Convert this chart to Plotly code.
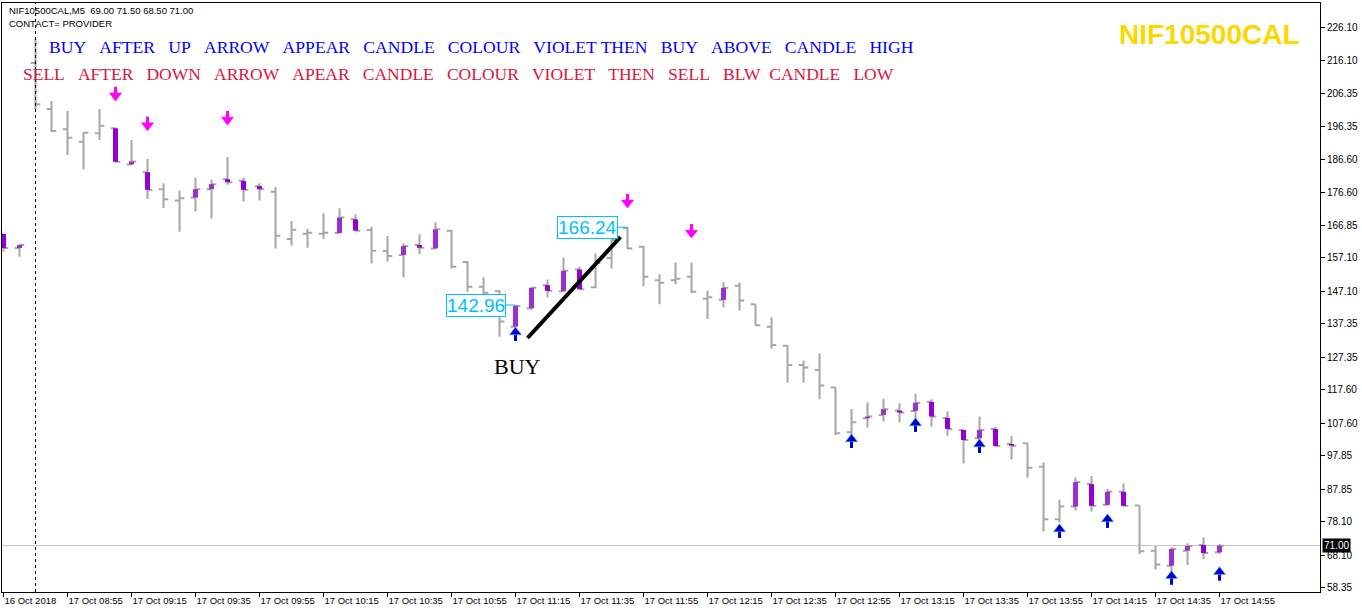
import plotly.graph_objects as go

# ---------------- data ----------------
BAR_INDEX = list(range(77))
OPEN = [164.2, 160.0, 215.3, 201.6, 195.5, 191.8, 194.3, 195.8, 185.0, 182.7,
        177.6, 174.2, 175.1, 177.6, 180.6, 180.1, 178.5, 176.8, 162.7, 164.3,
        164.3, 164.5, 168.6, 165.4, 159.1, 157.9, 160.9, 159.9, 165.2, 155.8,
        148.4, 147.1, 136.5, 142.0, 148.9, 147.1, 153.6, 148.3, 157.0, 166.0,
        160.4, 150.4, 150.4, 151.4, 144.8, 144.5, 148.7, 143.2, 136.5, 130.8,
        125.0, 123.5, 118.3, 104.9, 109.1, 110.1, 111.4, 111.3, 114.0, 109.2,
        105.6, 103.1, 105.9, 101.4, 101.6, 94.6, 78.9, 82.7, 89.4, 83.2,
        87.1, 83.0, 69.5, 65.0, 69.5, 71.2, 69.0]
HIGH = [164.2, 161.0, 222.5, 204.0, 201.0, 194.6, 201.6, 196.0, 192.3, 186.6,
        179.4, 177.1, 181.0, 180.4, 187.2, 181.0, 179.4, 178.2, 168.1, 165.7,
        170.4, 171.9, 170.1, 166.4, 163.6, 161.4, 164.1, 167.7, 165.4, 156.1,
        151.3, 147.4, 142.96, 148.3, 150.6, 157.2, 154.4, 158.4, 163.6, 166.24,
        160.6, 152.2, 155.7, 155.6, 147.2, 149.8, 149.7, 143.2, 139.3, 131.0,
        126.3, 128.5, 118.3, 111.9, 113.9, 114.9, 113.6, 116.4, 114.8, 111.1,
        105.6, 109.6, 106.6, 103.8, 101.6, 95.9, 84.7, 91.4, 91.8, 88.0,
        89.6, 83.0, 70.9, 70.5, 71.7, 73.5, 71.5]
LOW = [158.9, 157.4, 201.5, 194.6, 187.8, 183.6, 192.3, 185.6, 184.8, 174.7,
       172.0, 164.9, 170.9, 168.8, 178.9, 173.9, 174.2, 159.9, 160.7, 160.1,
       162.8, 164.4, 165.0, 155.4, 155.9, 151.3, 158.2, 159.7, 153.9, 146.9,
       145.9, 133.5, 136.4, 141.5, 145.3, 146.9, 147.5, 148.0, 153.9, 159.7,
       148.6, 143.2, 149.2, 146.5, 138.8, 142.3, 141.3, 136.9, 129.9, 119.7,
       119.7, 114.8, 104.1, 100.3, 106.3, 108.1, 107.8, 108.6, 106.6, 103.9,
       95.6, 102.1, 100.6, 96.8, 91.3, 75.2, 77.9, 81.5, 81.2, 83.1,
       82.8, 68.4, 63.9, 63.2, 65.2, 67.0, 68.5]
CLOSE = [160.0, 160.9, 203.0, 195.0, 193.0, 194.5, 196.6, 185.8, 185.9, 177.4,
         174.6, 174.9, 177.6, 179.1, 179.7, 177.4, 177.6, 163.7, 165.5, 164.6,
         164.6, 169.1, 165.2, 159.2, 157.6, 160.6, 160.1, 165.6, 154.4, 148.4,
         146.6, 138.0, 142.7, 148.1, 147.2, 153.2, 147.7, 155.5, 162.4, 159.9,
         151.4, 149.6, 150.8, 146.9, 145.3, 148.1, 144.3, 136.9, 131.0, 125.0,
         124.3, 118.9, 104.6, 107.9, 109.6, 111.8, 110.8, 113.7, 109.6, 105.9,
         102.6, 105.6, 100.8, 100.9, 94.3, 78.9, 82.7, 90.0, 82.9, 87.1,
         82.9, 69.3, 65.4, 70.0, 70.9, 68.8, 71.0]
VIOLET_BARS = [0, 1, 7, 8, 9, 12, 13, 14, 15, 16, 21, 22, 25, 26, 27, 32, 33, 34,
               35, 36, 45, 54, 55, 56, 57, 58, 59, 60, 61, 62, 63, 67, 68, 69, 70,
               73, 74, 75, 76]
DOWN_ARROW_IDX = [7, 9, 14, 39, 43]
DOWN_ARROW_PRICE = [206.1, 197.2, 198.9, 174.1, 165.1]
UP_ARROW_IDX = [32, 53, 57, 61, 66, 69, 73, 76]
UP_ARROW_PRICE = [134.3, 102.3, 107.1, 100.8, 75.4, 78.4, 61.4, 62.6]

X_TICK_IDX = list(range(0, 77, 4))
X_TICK_TEXT = ["16 Oct 2018", "17 Oct 08:55", "17 Oct 09:15", "17 Oct 09:35",
               "17 Oct 09:55", "17 Oct 10:15", "17 Oct 10:35", "17 Oct 10:55",
               "17 Oct 11:15", "17 Oct 11:35", "17 Oct 11:55", "17 Oct 12:15",
               "17 Oct 12:35", "17 Oct 12:55", "17 Oct 13:15", "17 Oct 13:35",
               "17 Oct 13:55", "17 Oct 14:15", "17 Oct 14:35", "17 Oct 14:55"]
Y_TICKS = [226.10, 216.10, 206.35, 196.35, 186.60, 176.60, 166.85, 157.10, 147.10,
           137.35, 127.35, 117.60, 107.60, 97.85, 87.85, 78.10, 68.10, 58.35]
DAY_START_IDX = 2
LAST_PRICE = 71.00
BUY_LABEL = (32, 142.96)
SELL_LABEL = (39, 166.24)
TREND_IDX = [32.75, 38.56]
TREND_PRICE = [133.1, 163.3]
BUY_TEXT_POS = (32.1, 124.7)

SYMBOL = "NIF10500CAL"
HEADER = "NIF10500CAL,M5  69.00 71.50 68.50 71.00"

# ---------------- figure ----------------
GRAY = "#A6A6A6"
BULL = "#9932CC"
BEAR = "#9400D3"
MAGENTA = "#FF00FF"
BLUE = "#0000CD"

fig = go.Figure()
fig.add_trace(go.Ohlc(
    x=BAR_INDEX, open=OPEN, high=HIGH, low=LOW, close=CLOSE,
    increasing=dict(line=dict(color=GRAY, width=2)),
    decreasing=dict(line=dict(color=GRAY, width=2)),
    tickwidth=0.3, hoverinfo="skip", showlegend=False))

for color, cond in ((BULL, lambda o, c: c >= o), (BEAR, lambda o, c: c < o)):
    xs, ys = [], []
    for i in VIOLET_BARS:
        if cond(OPEN[i], CLOSE[i]):
            xs += [i, i, None]
            ys += [OPEN[i], CLOSE[i], None]
    fig.add_trace(go.Scatter(x=xs, y=ys, mode="lines",
                             line=dict(color=color, width=5),
                             hoverinfo="skip", showlegend=False))


def add_arrows(idx_list, price_list, direction, color, edge):
    # stem (thick line) + arrow head (triangle marker), in price units
    s = 1 if direction == "down" else -1
    xs, ys = [], []
    for i, p in zip(idx_list, price_list):
        xs += [i, i, None]
        ys += [p + s * 2.1, p - s * 0.3, None]
    fig.add_trace(go.Scatter(x=xs, y=ys, mode="lines",
                             line=dict(color=color, width=3),
                             hoverinfo="skip", showlegend=False))
    fig.add_trace(go.Scatter(
        x=idx_list, y=[p - s * 0.55 for p in price_list], mode="markers",
        marker=dict(symbol="triangle-" + direction, size=10.5, color=color,
                    line=dict(color=edge, width=0.6)),
        hoverinfo="skip", showlegend=False))


add_arrows(DOWN_ARROW_IDX, DOWN_ARROW_PRICE, "down", MAGENTA, MAGENTA)
add_arrows(UP_ARROW_IDX, UP_ARROW_PRICE, "up", BLUE, "#5AA9FF")

shapes = [
    dict(type="line", xref="x", yref="paper", x0=DAY_START_IDX, x1=DAY_START_IDX,
         y0=0, y1=1, line=dict(color="black", width=1, dash="3px,3px")),
    dict(type="line", xref="paper", yref="y", x0=0, x1=1, y0=LAST_PRICE, y1=LAST_PRICE,
         line=dict(color="#C0C0C0", width=1), layer="below"),
    dict(type="line", xref="x", yref="y", x0=TREND_IDX[0], x1=TREND_IDX[1],
         y0=TREND_PRICE[0], y1=TREND_PRICE[1], line=dict(color="black", width=4)),
]
for idx, price in (BUY_LABEL, SELL_LABEL):
    shapes.append(dict(type="line", xref="x", yref="y", x0=idx - 0.6, x1=idx,
                       y0=price, y1=price, line=dict(color="#00BFFF", width=1)))

annotations = [
    dict(xref="paper", yref="paper", x=0.0038, y=0.988, xanchor="left", yanchor="middle",
         text=HEADER, showarrow=False,
         font=dict(family="Liberation Sans", size=9.5, color="black")),
    dict(xref="paper", yref="paper", x=0.0038, y=0.966, xanchor="left", yanchor="middle",
         text="CONTACT= PROVIDER", showarrow=False,
         font=dict(family="Liberation Sans", size=9.5, color="black")),
    dict(xref="paper", yref="paper", x=0.0341, y=0.9253, xanchor="left", yanchor="middle",
         text="\u00a0\u00a0\u00a0".join(["BUY", "AFTER", "UP", "ARROW", "APPEAR", "CANDLE",
                                         "COLOUR", "VIOLET THEN", "BUY", "ABOVE", "CANDLE", "HIGH"]),
         showarrow=False, font=dict(family="Liberation Serif", size=17.6, color="#0000FF")),
    dict(xref="paper", yref="paper", x=0.0144, y=0.8795, xanchor="left", yanchor="middle",
         text="\u00a0\u00a0\u00a0".join(["SELL", "AFTER", "DOWN", "ARROW", "APEAR", "CANDLE",
                                         "COLOUR", "VIOLET", "THEN", "SELL",
                                         "BLW\u00a0\u00a0CANDLE", "LOW"]),
         showarrow=False, font=dict(family="Liberation Serif", size=17.5, color="#DC143C")),
    dict(xref="paper", yref="paper", x=0.9863, y=0.9457, xanchor="right", yanchor="middle",
         text="<b>" + SYMBOL + "</b>", showarrow=False,
         font=dict(family="Liberation Sans", size=28, color="#FFD700")),
    dict(xref="x", yref="y", x=BUY_TEXT_POS[0], y=BUY_TEXT_POS[1], xanchor="center",
         yanchor="middle", text="BUY", showarrow=False,
         font=dict(family="Liberation Serif", size=22, color="black")),
    dict(xref="paper", yref="y", x=1, y=LAST_PRICE, xanchor="left", yanchor="middle",
         xshift=2, text=f"{LAST_PRICE:.2f}", showarrow=False, bgcolor="black",
         borderpad=1, font=dict(family="Liberation Sans", size=10, color="white")),
]
for idx, price in (BUY_LABEL, SELL_LABEL):
    annotations.append(dict(xref="x", yref="y", x=idx - 0.6, y=price, xanchor="right",
                            yanchor="middle", text=f"{price:.2f}", showarrow=False,
                            bgcolor="white", bordercolor="#00BFFF", borderwidth=1,
                            borderpad=0,
                            font=dict(family="Liberation Sans", size=19, color="#00BFFF")))

fig.update_layout(
    width=1362, height=612,
    margin=dict(l=2, r=42, t=3, b=20),
    paper_bgcolor="white", plot_bgcolor="white",
    showlegend=False, hovermode=False,
    shapes=shapes, annotations=annotations,
    xaxis=dict(range=[-0.094, 82.28], tickvals=X_TICK_IDX, ticktext=X_TICK_TEXT,
               ticks="outside", ticklen=4, tickcolor="black",
               ticklabelposition="outside right",
               showline=True, linecolor="black", linewidth=1, mirror=True,
               showgrid=False, zeroline=False,
               rangeslider=dict(visible=False),
               tickfont=dict(family="Liberation Sans", size=9.5, color="black")),
    yaxis=dict(side="right", range=[57.14, 233.28], tickvals=Y_TICKS,
               ticktext=[f"{v:.2f}" for v in Y_TICKS],
               ticks="outside", ticklen=4, tickcolor="black",
               showline=True, linecolor="black", linewidth=1, mirror=True,
               showgrid=False, zeroline=False,
               tickfont=dict(family="Liberation Sans", size=10, color="black")),
)

fig.write_html("out.html", config={"displayModeBar": False},
               post_script="document.body.style.margin='0';document.body.style.overflow='hidden';")
